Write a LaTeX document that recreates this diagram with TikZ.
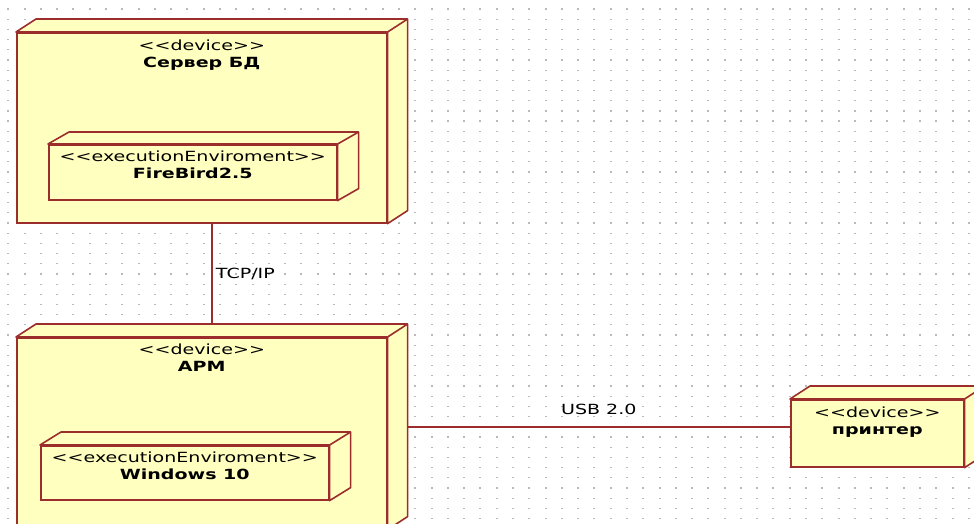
\documentclass[tikz,border=0pt]{standalone}
\usepackage{fontspec}
\newfontfamily\umlfont[FakeStretch=1.36]{DejaVu Sans}
\usetikzlibrary{positioning}

\definecolor{umlred}{RGB}{155,45,45}
\definecolor{umlfill}{RGB}{255,255,192}
\definecolor{dotgray}{RGB}{185,185,185}

% <<stereotype>> without the << >> ligature
\newcommand{\stereo}[1]{<\kern0pt<#1>\kern0pt>}
% top and side face of a node box: name, dx, dy
\newcommand{\depthbox}[3]{%
  \filldraw[face] (#1.north west) -- ++(#2,-#3) -- ([shift={(#2,-#3)}]#1.north east)
    -- ([shift={(#2,-#3)}]#1.south east) -- (#1.south east) -- (#1.north east) -- cycle;
  \draw[face] (#1.north east) -- ++(#2,-#3);
}

\begin{document}
\begin{tikzpicture}[x=1pt, y=-1pt,
  every node/.style={font=\umlfont\fontsize{14}{17}\selectfont},
  box/.style={draw=umlred, fill=umlfill, line width=1.6pt, anchor=north west, inner sep=0pt},
  face/.style={draw=umlred, fill=umlfill, line width=1.6pt, line join=round},
  boxtext/.style={align=center, inner sep=0pt},
  link/.style={draw=umlred, line width=1.7pt}]
\useasboundingbox (0,0) rectangle (974,523);
\clip (0,0) rectangle (974,523);
\fill[white] (0,0) rectangle (974,523);
% dotted grid
\foreach \i in {0,...,59}
  \foreach \j in {0,...,50}
    \fill[dotgray] (8.3+16.28*\i-1, 9+10.19*\j-0.6) rectangle ++(2,1.2);

% server
\node[box, minimum width=370, minimum height=190] (server) at (16,32) {};
\depthbox{server}{20}{13}
\node[boxtext, below=8pt of server.north] (server-t) {\stereo{device}\\\textbf{Сервер БД}};
\node[box, minimum width=288, minimum height=55] (fire) at (48,144) {};
\depthbox{fire}{21}{12}
\node[boxtext, below=7pt of fire.north] (fire-t) {\stereo{executionEnviroment}\\\textbf{FireBird2.5}};

% workstation
\node[box, minimum width=370, minimum height=191] (arm) at (16,337) {};
\depthbox{arm}{20}{13}
\node[boxtext, below=7pt of arm.north] (arm-t) {\stereo{device}\\\textbf{АРМ}};
\node[box, minimum width=288, minimum height=54] (win) at (40,445) {};
\depthbox{win}{21}{13}
\node[boxtext, below=7pt of win.north] (win-t) {\stereo{executionEnviroment}\\\textbf{Windows 10}};

% printer
\node[box, minimum width=173, minimum height=67] (prn) at (790,399) {};
\depthbox{prn}{20}{13}
\node[boxtext, below=8pt of prn.north] (prn-t) {\stereo{device}\\\textbf{принтер}};

% links
\draw[link] ([xshift=10pt]server.south) -- ([xshift=10pt,yshift=13pt]arm.north)
  node[midway, anchor=west] (tcp) {TCP/IP};
\draw[link] ([xshift=20pt,yshift=6pt]arm.east) -- ([yshift=6pt]prn.west)
  node[midway, yshift=18pt] (usb) {USB 2.0};
\end{tikzpicture}
\end{document}
